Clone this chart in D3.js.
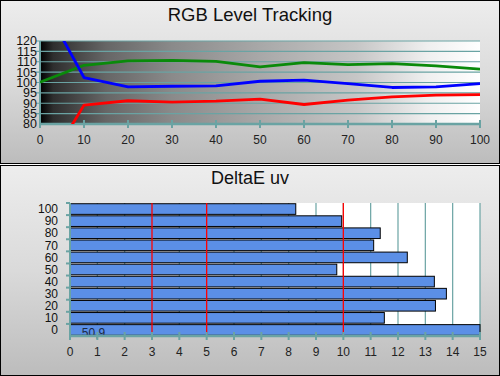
<!DOCTYPE html>
<html>
<head>
<meta charset="utf-8">
<script src="https://cdn.jsdelivr.net/npm/d3@7"></script>
<style>
  body { margin: 0; background: #fff; }
  svg { display: block; font-family: "Liberation Sans", Arial, sans-serif; }
</style>
</head>
<body>
<svg id="chart" width="500" height="376"></svg>
<script>
// RGB level tracking data (percent stimulus vs relative level)
const levels = [0, 10, 20, 30, 40, 50, 60, 70, 80, 90, 100];
const redVals = [54, 89.1, 91.2, 90.5, 91, 92, 89.4, 91.5, 93.1, 93.9, 94.2];
const greenVals = [100.1, 108.3, 110.4, 110.7, 110.2, 107.5, 109.6, 108.6, 109.1, 108, 106.4];
const blueVals = [141, 102.4, 97.9, 98.2, 98.4, 100.6, 101.1, 99.5, 97.6, 97.9, 99.5];
const yTicksTop = [80, 85, 90, 95, 100, 105, 110, 115, 120];

// DeltaE uv bars
const deCats = ['0', '10', '20', '30', '40', '50', '60', '70', '80', '90', '100'];
const deVals = [50.9, 11.5, 13.37, 13.77, 13.33, 9.76, 12.34, 11.11, 11.35, 9.94, 8.26];
const deLabel = '50,9';
const refLines = [3, 5, 10];

const svg = d3.select('#chart');
const teal = '#6aa3a3';
const defs = svg.append('defs');

// panel background gradient
const pg = defs.append('linearGradient').attr('id', 'panelGrad')
  .attr('x1', 0).attr('y1', 0).attr('x2', 0).attr('y2', 1);
pg.append('stop').attr('offset', 0).attr('stop-color', '#ededed');
pg.append('stop').attr('offset', 0.5).attr('stop-color', '#dadada');
pg.append('stop').attr('offset', 1).attr('stop-color', '#bcbcbc');

// plot area gradient (black -> white)
const bg = defs.append('linearGradient').attr('id', 'plotGrad')
  .attr('x1', 0).attr('y1', 0).attr('x2', 1).attr('y2', 0);
[[0, '#000'], [0.03, '#2e2e2e'], [0.15, '#666'], [0.3, '#8a8a8a'], [0.5, '#a8a8a8'],
 [0.72, '#c6c6c6'], [0.88, '#efefef'], [1, '#fff']].forEach(s => {
  bg.append('stop').attr('offset', s[0]).attr('stop-color', s[1]);
});

// panels
svg.append('rect').attr('x', 0.5).attr('y', 0.5).attr('width', 499).attr('height', 163)
  .attr('fill', 'url(#panelGrad)').attr('stroke', '#000');
svg.append('rect').attr('x', 0.5).attr('y', 165.5).attr('width', 499).attr('height', 210)
  .attr('fill', 'url(#panelGrad)').attr('stroke', '#000');

// ---------- top chart ----------
const x1 = d3.scaleLinear().domain([0, 100]).range([40, 480]);
const y1 = d3.scaleLinear().domain([80, 120]).range([124, 41]);

svg.append('text').attr('x', 250).attr('y', 21).attr('text-anchor', 'middle')
  .attr('font-size', 18.5).attr('fill', '#111').text('RGB Level Tracking');

svg.append('rect').attr('x', x1(0)).attr('y', y1(120)).attr('width', x1(100) - x1(0))
  .attr('height', y1(80) - y1(120)).attr('fill', 'url(#plotGrad)');

svg.append('g').selectAll('line').data(yTicksTop.slice(1)).join('line')
  .attr('x1', x1(0) - 4).attr('x2', x1(100)).attr('y1', d => y1(d)).attr('y2', d => y1(d))
  .attr('stroke', teal).attr('stroke-width', 1.2);

svg.append('g').selectAll('text').data(yTicksTop).join('text')
  .attr('x', 37).attr('y', d => y1(d)).attr('dy', '0.35em').attr('text-anchor', 'end')
  .attr('font-size', 12.5).attr('fill', '#111').text(d => d);

// axes
svg.append('line').attr('x1', x1(0)).attr('x2', x1(0)).attr('y1', y1(120)).attr('y2', y1(80))
  .attr('stroke', teal).attr('stroke-width', 2);
svg.append('line').attr('x1', x1(0)).attr('x2', x1(100)).attr('y1', y1(80)).attr('y2', y1(80))
  .attr('stroke', teal).attr('stroke-width', 2.5);
svg.append('g').selectAll('line').data(levels).join('line')
  .attr('x1', d => x1(d)).attr('x2', d => x1(d)).attr('y1', y1(80) - 4).attr('y2', y1(80) + 4)
  .attr('stroke', teal).attr('stroke-width', 2);
svg.append('g').selectAll('text').data(levels).join('text')
  .attr('x', d => x1(d)).attr('y', 140).attr('dy', '0.35em').attr('text-anchor', 'middle')
  .attr('font-size', 12).attr('fill', '#222').text(d => d);

defs.append('clipPath').attr('id', 'clipTop').append('rect')
  .attr('x', x1(0)).attr('y', y1(120)).attr('width', x1(100) - x1(0)).attr('height', y1(80) - y1(120));

const line = d3.line().x((d, i) => x1(levels[i])).y(d => y1(d));
const lg = svg.append('g').attr('clip-path', 'url(#clipTop)');
[[greenVals, '#0a8a0a'], [blueVals, '#0000ff'], [redVals, '#ff0000']].forEach(s => {
  lg.append('path').datum(s[0]).attr('d', line).attr('fill', 'none')
    .attr('stroke', s[1]).attr('stroke-width', 2.8).attr('stroke-linejoin', 'round');
});

// ---------- bottom chart ----------
const x2 = d3.scaleLinear().domain([0, 15]).range([70, 480]);
const y2 = d3.scaleBand().domain(deCats).range([336, 203]).paddingInner(0.12).paddingOuter(0.06);
const step = y2.step();

svg.append('text').attr('x', 250).attr('y', 184).attr('text-anchor', 'middle')
  .attr('font-size', 18).attr('fill', '#111').text('DeltaE uv');

svg.append('rect').attr('x', x2(0)).attr('y', 203).attr('width', x2(15) - x2(0))
  .attr('height', 133).attr('fill', '#fff');

svg.append('g').selectAll('line').data(d3.range(1, 16)).join('line')
  .attr('x1', d => x2(d)).attr('x2', d => x2(d)).attr('y1', 203).attr('y2', 336)
  .attr('stroke', teal).attr('stroke-width', 1.2);

svg.append('g').selectAll('rect').data(deVals).join('rect')
  .attr('x', x2(0)).attr('y', (d, i) => y2(deCats[i]))
  .attr('width', d => x2(Math.min(d, 15)) - x2(0)).attr('height', y2.bandwidth())
  .attr('fill', '#5b8fe6').attr('stroke', '#000').attr('stroke-width', 1);

svg.append('g').selectAll('line').data(refLines).join('line')
  .attr('x1', d => x2(d)).attr('x2', d => x2(d)).attr('y1', 203).attr('y2', 336)
  .attr('stroke', '#ff0000').attr('stroke-width', 1.3);

svg.append('text').attr('x', x2(0.43)).attr('y', y2('0') + y2.bandwidth() / 2 + 3)
  .attr('dy', '0.35em').attr('font-size', 12).attr('fill', '#1c2a44').text(deLabel);

// axes
svg.append('line').attr('x1', x2(0)).attr('x2', x2(0)).attr('y1', 203).attr('y2', 336)
  .attr('stroke', teal).attr('stroke-width', 2);
svg.append('line').attr('x1', x2(0)).attr('x2', x2(15)).attr('y1', 336).attr('y2', 336)
  .attr('stroke', teal).attr('stroke-width', 2.5);
const edges = deCats.map(c => y2(c) - step * y2.paddingInner() / 2).concat([203]);
svg.append('g').selectAll('line').data(edges).join('line')
  .attr('x1', x2(0) - 4).attr('x2', x2(0)).attr('y1', d => d).attr('y2', d => d)
  .attr('stroke', teal).attr('stroke-width', 2);
svg.append('g').selectAll('line').data(d3.range(0, 16)).join('line')
  .attr('x1', d => x2(d)).attr('x2', d => x2(d)).attr('y1', 332).attr('y2', 340)
  .attr('stroke', teal).attr('stroke-width', 2);

svg.append('g').selectAll('text').data(deCats).join('text')
  .attr('x', 58).attr('y', d => y2(d) + y2.bandwidth() / 2).attr('dy', '0.35em')
  .attr('text-anchor', 'end').attr('font-size', 12).attr('fill', '#111').text(d => d);
svg.append('g').selectAll('text').data(d3.range(0, 16)).join('text')
  .attr('x', d => x2(d)).attr('y', 352).attr('dy', '0.35em').attr('text-anchor', 'middle')
  .attr('font-size', 12).attr('fill', '#222').text(d => d);
</script>
</body>
</html>
